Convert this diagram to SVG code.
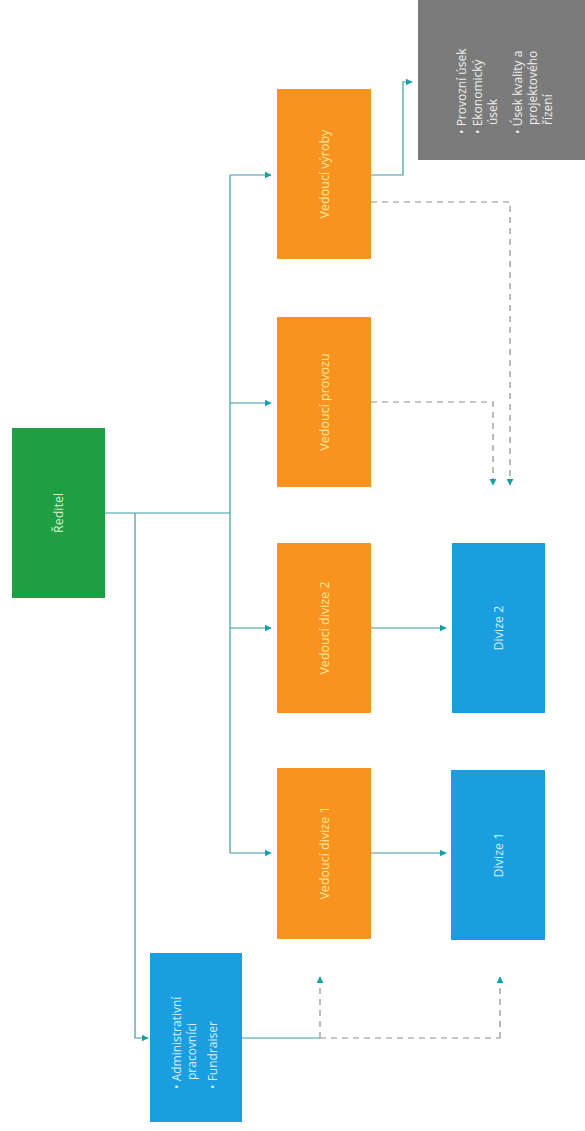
<svg xmlns="http://www.w3.org/2000/svg" width="585" height="1131" viewBox="0 0 585 1131">
<defs>
<style>
.t{font-family:"Open Sans","Liberation Sans",sans-serif;font-size:12.5px;text-anchor:middle;dominant-baseline:central}
.tl{font-family:"Open Sans","Liberation Sans",sans-serif;font-size:12px}
.s{fill:none;stroke:#3a9ea2;stroke-width:1.2}
.d{fill:none;stroke:#8a8f92;stroke-width:1.2;stroke-dasharray:6 5}
</style>
<marker id="a" viewBox="0 0 10 10" refX="9" refY="5" markerWidth="6" markerHeight="6" orient="auto"><path d="M0,0L10,5L0,10z" fill="#14a0a8"/></marker>
</defs>
<rect width="585" height="1131" fill="#fff"/>
<g id="connectors">
<path class="s" d="M105,513H230"/>
<path class="s" d="M230,175V853"/>
<path class="s" d="M230,175H271" marker-end="url(#a)"/>
<path class="s" d="M230,403H271" marker-end="url(#a)"/>
<path class="s" d="M230,628H271" marker-end="url(#a)"/>
<path class="s" d="M230,853H271" marker-end="url(#a)"/>
<path class="s" d="M135,513V1038H148" marker-end="url(#a)"/>
<path class="s" d="M371,175H403V82H412" marker-end="url(#a)"/>
<path class="s" d="M371,628H446" marker-end="url(#a)"/>
<path class="s" d="M371,853H446" marker-end="url(#a)"/>
<path class="d" d="M371,202H510V485" marker-end="url(#a)"/>
<path class="d" d="M371,402H493V485" marker-end="url(#a)"/>
<path class="s" d="M242,1038H320"/>
<path class="d" d="M320,1038H500"/>
<path class="d" d="M320,1038V977" marker-end="url(#a)"/>
<path class="d" d="M500,1038V977" marker-end="url(#a)"/>
</g>
<g id="reditel">
<rect x="12" y="428" width="93" height="170" fill="#1f9e44"/>
<text class="t" fill="#d9f3c8" transform="translate(58,513) rotate(-90)">Ředitel</text>
</g>
<g id="vedouci-vyroby">
<rect x="277" y="89" width="94" height="170" fill="#f7931e"/>
<text class="t" fill="#ffe7a0" transform="translate(324,174) rotate(-90)">Vedoucí výroby</text>
</g>
<g id="vedouci-provozu">
<rect x="277" y="317" width="94" height="170" fill="#f7931e"/>
<text class="t" fill="#ffe7a0" transform="translate(324,402) rotate(-90)">Vedoucí provozu</text>
</g>
<g id="vedouci-divize-2">
<rect x="277" y="543" width="94" height="170" fill="#f7931e"/>
<text class="t" fill="#ffe7a0" transform="translate(324,628) rotate(-90)">Vedoucí divize 2</text>
</g>
<g id="vedouci-divize-1">
<rect x="277" y="768" width="94" height="171" fill="#f7931e"/>
<text class="t" fill="#ffe7a0" transform="translate(324,853) rotate(-90)">Vedoucí divize 1</text>
</g>
<g id="useky">
<rect x="418" y="0" width="167" height="160" fill="#7b7b7b"/>
<text class="tl" fill="#eeeeee" transform="translate(0,134) rotate(-90)">
<tspan x="0" y="466">• Provozní úsek</tspan>
<tspan x="0" y="482">• Ekonomický</tspan>
<tspan x="9" y="497">úsek</tspan>
<tspan x="0" y="522">• Úsek kvality a</tspan>
<tspan x="9" y="537">projektového</tspan>
<tspan x="9" y="552">řízení</tspan>
</text>
</g>
<g id="divize-2">
<rect x="452" y="543" width="93" height="170" fill="#1a9ee0"/>
<text class="t" fill="#d6eefa" transform="translate(498,628) rotate(-90)">Divize 2</text>
</g>
<g id="divize-1">
<rect x="451" y="770" width="94" height="170" fill="#1a9ee0"/>
<text class="t" fill="#d6eefa" transform="translate(498,855) rotate(-90)">Divize 1</text>
</g>
<g id="administrativa">
<rect x="150" y="953" width="92" height="169" fill="#1a9ee0"/>
<text class="tl" fill="#d6eefa" transform="translate(0,1089) rotate(-90)">
<tspan x="0" y="181">• Administrativní</tspan>
<tspan x="9" y="196">pracovníci</tspan>
<tspan x="0" y="217">• Fundraiser</tspan>
</text>
</g>
</svg>
